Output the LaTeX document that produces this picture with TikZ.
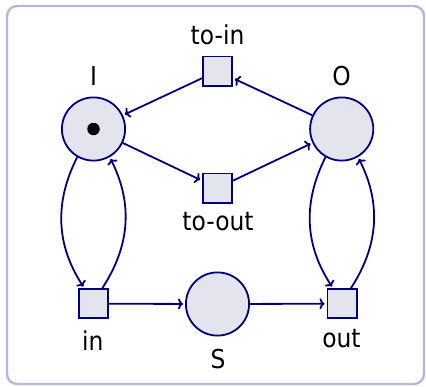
\documentclass[tikz,border=0pt]{standalone}
\usepackage{fontspec}
\setmainfont{DejaVu Sans Condensed}
\usetikzlibrary{arrows.meta}
\definecolor{netline}{HTML}{000080}
\definecolor{netfill}{HTML}{E4E4EF}
\definecolor{framecol}{HTML}{B4B6DC}
\begin{document}
\begin{tikzpicture}[x=1pt,y=-1pt,
  place/.style={circle,draw=netline,fill=netfill,line width=1.8pt,minimum size=63.2pt,inner sep=0pt},
  transition/.style={rectangle,draw=netline,fill=netfill,line width=1.8pt,minimum size=29.2pt,inner sep=0pt},
  token/.style={circle,fill=black,minimum size=12.5pt,inner sep=0pt},
  arc/.style={draw=netline,line width=1.8pt,-{To[length=5pt,width=11pt]},shorten >=2pt},
  lbl/.style={font=\fontsize{26}{30}\selectfont,anchor=base,inner sep=0pt,text=black}]
\useasboundingbox (0,0) rectangle (426,386);
% outer frame
\draw[framecol,line width=2.4pt,rounded corners=10pt] (7,6) rectangle (424,384);

% places
\node[place] (I) at (93.5,129) {};
\node[place] (O) at (341.7,129) {};
\node[place] (S) at (217.5,304) {};
\node[token] (tok) at (I) {};

% transitions
\node[transition] (toin) at (217.5,71) {};
\node[transition] (toout) at (217.5,188) {};
\node[transition] (in) at (93.3,303.7) {};
\node[transition] (out) at (342,303.7) {};

% labels
\node[lbl] (lI) at (93.5,85) {I};
\node[lbl] (lO) at (341.7,85) {O};
\node[lbl] (lS) at (218,368) {S};
\node[lbl] (ltoin) at (217.5,44) {to-in};
\node[lbl] (ltoout) at (218,230.5) {to-out};
\node[lbl] (lin) at (92.7,350.5) {in};
\node[lbl] (lout) at (341.5,347.5) {out};

% arcs
\draw[arc] (toin) -- (I);
\draw[arc] (O) -- (toin);
\draw[arc] (I) -- (toout);
\draw[arc] (toout) -- (O);
\draw[arc] (in) -- (S);
\draw[arc] (S) -- (out);
\draw[arc] (I) to[bend right] (in);
\draw[arc] (in) to[bend right] (I);
\draw[arc] (O) to[bend right] (out);
\draw[arc] (out) to[bend right] (O);
\end{tikzpicture}
\end{document}
